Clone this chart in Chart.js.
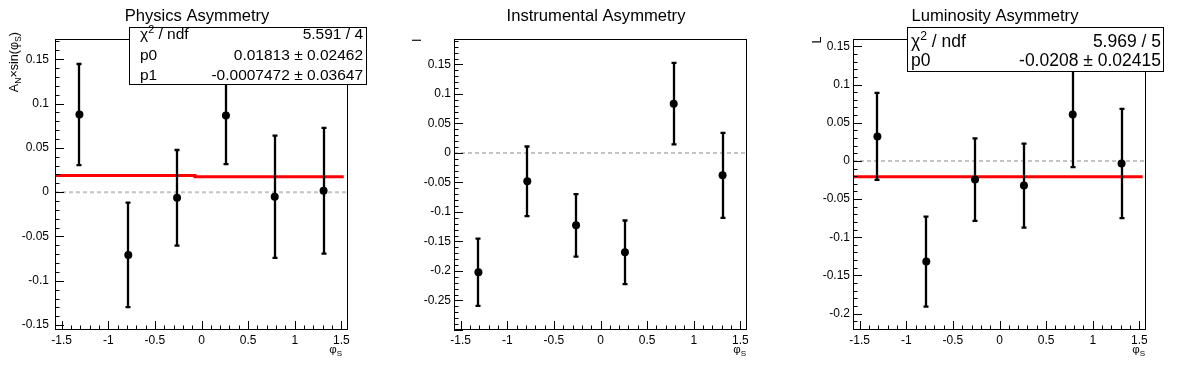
<!DOCTYPE html>
<html>
<head>
<meta charset="utf-8">
<script src="https://cdn.jsdelivr.net/npm/chart.js@4.4.1/dist/chart.umd.min.js"></script>
<style>
html, body { margin: 0; padding: 0; background: #fff; }
#wrap { position: relative; width: 1196px; height: 372px; overflow: hidden; }
canvas { position: absolute; top: 0; }
</style>
</head>
<body>
<div id="wrap">
  <canvas id="c1" width="398" height="372" style="left:0px;width:398px;height:372px"></canvas>
  <canvas id="c2" width="398" height="372" style="left:399px;width:398px;height:372px"></canvas>
  <canvas id="c3" width="398" height="372" style="left:798px;width:398px;height:372px"></canvas>
</div>
<script>
// phi_S bin centres (6 bins over -pi/2 .. pi/2)
const phiBins = [-1.309, -0.785, -0.262, 0.262, 0.785, 1.309];
const phiRange = [-1.5708, 1.5708];
const xTicks = [-1.5, -1, -0.5, 0, 0.5, 1, 1.5];

// Physics asymmetry
const physicsVals = [0.0876, -0.0708, -0.0064, 0.0866, -0.0052, 0.0016];
const physicsErrs = [0.057, 0.059, 0.054, 0.055, 0.069, 0.071];
const physicsFitX = [-1.5708, -0.07, 1.525];
const physicsFitY = [0.0188, 0.0175];
const physicsRange = [-0.1555, 0.1728];
const physicsTicks = [-0.15, -0.1, -0.05, 0, 0.05, 0.1, 0.15];
const physicsStats = [['χ', '2', ' / ndf', '5.591 / 4'], ['p0', '', '', '0.01813 ± 0.02462'], ['p1', '', '', '-0.0007472 ± 0.03647']];

// Instrumental asymmetry
const instrVals = [-0.2022, -0.048, -0.1226, -0.1684, 0.0836, -0.0379];
const instrErrs = [0.057, 0.059, 0.053, 0.054, 0.069, 0.072];
const instrRange = [-0.300, 0.1932];
const instrTicks = [-0.25, -0.2, -0.15, -0.1, -0.05, 0, 0.05, 0.1, 0.15];

// Luminosity asymmetry
const lumiVals = [0.032, -0.132, -0.0245, -0.0324, 0.0609, -0.0034];
const lumiErrs = [0.057, 0.059, 0.054, 0.055, 0.069, 0.0715];
const lumiFitX = [-1.5708, 1.535];
const lumiFitY = [-0.0208];
const lumiRange = [-0.2216, 0.1597];
const lumiTicks = [-0.2, -0.15, -0.1, -0.05, 0, 0.05, 0.1, 0.15];
const lumiStats = [['χ', '2', ' / ndf', '5.969 / 5'], ['p0', '', '', '-0.0208 ± 0.02415']];

const FONT = '"Liberation Sans", Arial, Helvetica, sans-serif';

function drawRich(ctx, segs, x, y, size) {
    segs.forEach(function(s) {
        const small = s.sub || s.sup;
        ctx.font = (small ? size * 0.7 : size) + 'px ' + FONT;
        const dy = s.sub ? size * 0.3 : (s.sup ? -size * 0.4 : 0);
        ctx.fillText(s.t, x, y + dy);
        x += ctx.measureText(s.t).width;
    });
    return x;
}

function richWidth(ctx, segs, size) {
    let w = 0;
    segs.forEach(function(s) {
        ctx.font = ((s.sub || s.sup) ? size * 0.7 : size) + 'px ' + FONT;
        w += ctx.measureText(s.t).width;
    });
    return w;
}

// ROOT-like decorations: frame, inward ticks, error bars, titles, stat box
const rootPlugin = {
    id: 'rootStyle',
    afterDatasetsDraw(chart, args, opts) {
        const ctx = chart.ctx;
        const xs = chart.scales.x, ys = chart.scales.y;
        const ds = chart.data.datasets[0];
        ctx.save();
        ctx.strokeStyle = '#000';
        ctx.lineWidth = 2.3;
        ds.data.forEach(function(p, i) {
            const err = ds.errors[i];
            const px = Math.round(xs.getPixelForValue(p.x));
            const yt = ys.getPixelForValue(p.y + err);
            const yb = ys.getPixelForValue(p.y - err);
            ctx.beginPath();
            ctx.moveTo(px, yt); ctx.lineTo(px, yb);
            ctx.moveTo(px - 2.5, yt); ctx.lineTo(px + 2.5, yt);
            ctx.moveTo(px - 2.5, yb); ctx.lineTo(px + 2.5, yb);
            ctx.stroke();
        });
        ctx.restore();
    },
    afterDraw(chart, args, opts) {
        const ctx = chart.ctx;
        const a = chart.chartArea;
        const xs = chart.scales.x, ys = chart.scales.y;
        ctx.save();
        // frame
        ctx.strokeStyle = '#000';
        ctx.lineWidth = 1;
        ctx.strokeRect(a.left + 0.5, a.top + 0.5, a.right - a.left - 1, a.bottom - a.top - 1);
        // x ticks
        ctx.beginPath();
        for (let k = Math.ceil(xs.min * 10 - 1e-6); k <= Math.floor(xs.max * 10 + 1e-6); k++) {
            const v = k / 10;
            const px = Math.round(xs.getPixelForValue(v)) + 0.5;
            const len = (k % 5 === 0) ? 9 : 4.5;
            ctx.moveTo(px, a.bottom); ctx.lineTo(px, a.bottom - len);
        }
        // y ticks
        for (let k = Math.ceil(ys.min * 100 - 1e-6); k <= Math.floor(ys.max * 100 + 1e-6); k++) {
            const v = k / 100;
            const py = Math.round(ys.getPixelForValue(v)) + 0.5;
            const len = (k % 5 === 0) ? 9 : 4.5;
            ctx.moveTo(a.left, py); ctx.lineTo(a.left + len, py);
        }
        ctx.stroke();

        ctx.fillStyle = '#000';
        // title
        ctx.font = '16.6px ' + FONT;
        ctx.textAlign = 'center';
        ctx.textBaseline = 'alphabetic';
        ctx.fillText(opts.title, opts.titleX, 20.5);
        ctx.textAlign = 'left';

        // x axis title phi_S
        const xt = [{t: 'φ'}, {t: 'S', sub: true}];
        const xw = richWidth(ctx, xt, 11.5);
        drawRich(ctx, xt, opts.xTitleRight - xw, 353, 11.5);

        // y axis title (rotated, right aligned at top)
        ctx.save();
        ctx.translate(opts.yTitleX, opts.yTitleTop);
        ctx.rotate(-Math.PI / 2);
        const yw = richWidth(ctx, opts.yTitle, 12.5);
        drawRich(ctx, opts.yTitle, -yw, 0, 12.5);
        ctx.restore();

        // stat box
        if (opts.box) {
            const b = opts.box;
            ctx.fillStyle = '#fff';
            ctx.fillRect(b.x0, b.y0, b.x1 - b.x0, b.y1 - b.y0);
            ctx.strokeStyle = '#000';
            ctx.lineWidth = 1;
            ctx.strokeRect(b.x0 + 0.5, b.y0 + 0.5, b.x1 - b.x0, b.y1 - b.y0);
            ctx.fillStyle = '#000';
            b.rows.forEach(function(r, i) {
                const y = b.baselines[i];
                const segs = [{t: r[0]}];
                if (r[1]) segs.push({t: r[1], sup: true});
                if (r[2]) segs.push({t: r[2]});
                drawRich(ctx, segs, b.textLeft, y, b.size);
                ctx.font = b.size + 'px ' + FONT;
                ctx.textAlign = 'right';
                ctx.fillText(r[3], b.textRight, y);
                ctx.textAlign = 'left';
            });
        }
        ctx.restore();
    }
};

function makePanel(id, vals, errs, yRange, yTicks, fitX, fitY, deco, yPad) {
    const pts = phiBins.map(function(x, i) { return {x: x, y: vals[i]}; });
    const datasets = [{
        type: 'scatter',
        data: pts,
        errors: errs,
        pointRadius: 4,
        pointBackgroundColor: '#000',
        pointBorderWidth: 0,
        order: 0
    }];
    if (fitX) {
        const fitPts = [];
        fitY.forEach(function(y, i) {
            fitPts.push({x: fitX[i], y: y});
            fitPts.push({x: fitX[i + 1], y: y});
        });
        datasets.push({
            type: 'line',
            data: fitPts,
            borderColor: '#ff0000',
            borderWidth: 3,
            pointRadius: 0,
            fill: false,
            order: 1
        });
    }
    datasets.push({
        type: 'line',
        data: [{x: phiRange[0], y: 0}, {x: phiRange[1], y: 0}],
        borderColor: '#c4c4c4',
        borderWidth: 2,
        borderDash: [4, 3],
        pointRadius: 0,
        fill: false,
        order: 2
    });

    new Chart(document.getElementById(id), {
        type: 'scatter',
        data: { datasets: datasets },
        options: {
            responsive: false,
            animation: false,
            events: [],
            layout: { padding: { left: 0, top: 39, right: 50, bottom: 0 } },
            plugins: {
                legend: { display: false },
                tooltip: { enabled: false },
                rootStyle: deco
            },
            scales: {
                x: {
                    type: 'linear',
                    min: phiRange[0],
                    max: phiRange[1],
                    grid: { display: false, drawTicks: false },
                    border: { display: false },
                    afterBuildTicks: function(s) { s.ticks = xTicks.map(function(v) { return {value: v}; }); },
                    afterFit: function(s) { s.height = 42; },
                    ticks: {
                        padding: 3,
                        autoSkip: false,
                        maxRotation: 0,
                        color: '#000',
                        font: { family: FONT, size: 12 },
                        callback: function(v) { return String(v); }
                    }
                },
                y: {
                    type: 'linear',
                    min: yRange[0],
                    max: yRange[1],
                    grid: { display: false, drawTicks: false },
                    border: { display: false },
                    afterBuildTicks: function(s) { s.ticks = yTicks.map(function(v) { return {value: v}; }); },
                    afterFit: function(s) { s.width = 55; },
                    ticks: {
                        padding: yPad,
                        autoSkip: false,
                        color: '#000',
                        font: { family: FONT, size: 12 },
                        callback: function(v) { return String(v); }
                    }
                }
            }
        },
        plugins: [rootPlugin]
    });
}

makePanel('c1', physicsVals, physicsErrs, physicsRange, physicsTicks, physicsFitX, physicsFitY, {
    title: 'Physics Asymmetry', titleX: 197,
    yTitle: [{t: 'A'}, {t: 'N', sub: true}, {t: '×sin(φ'}, {t: 'S', sub: true}, {t: ')'}],
    yTitleX: 17.5, yTitleTop: 32, xTitleRight: 342,
    box: { x0: 129, y0: 27, x1: 366, y1: 84, size: 15.5, textLeft: 140, textRight: 363,
           rows: physicsStats, baselines: [39, 60, 80] }
}, 6);

makePanel('c2', instrVals, instrErrs, instrRange, instrTicks, null, null, {
    title: 'Instrumental Asymmetry', titleX: 197,
    yTitle: [{t: 'I'}], yTitleX: 22, yTitleTop: 38.5, xTitleRight: 347
}, 3);

makePanel('c3', lumiVals, lumiErrs, lumiRange, lumiTicks, lumiFitX, lumiFitY, {
    title: 'Luminosity Asymmetry', titleX: 197,
    yTitle: [{t: 'L'}], yTitleX: 22.5, yTitleTop: 36.5, xTitleRight: 347,
    box: { x0: 109, y0: 27, x1: 365, y1: 71, size: 17.5, textLeft: 113, textRight: 363,
           rows: lumiStats, baselines: [46.5, 65.5] }
}, 3);
</script>
</body>
</html>
